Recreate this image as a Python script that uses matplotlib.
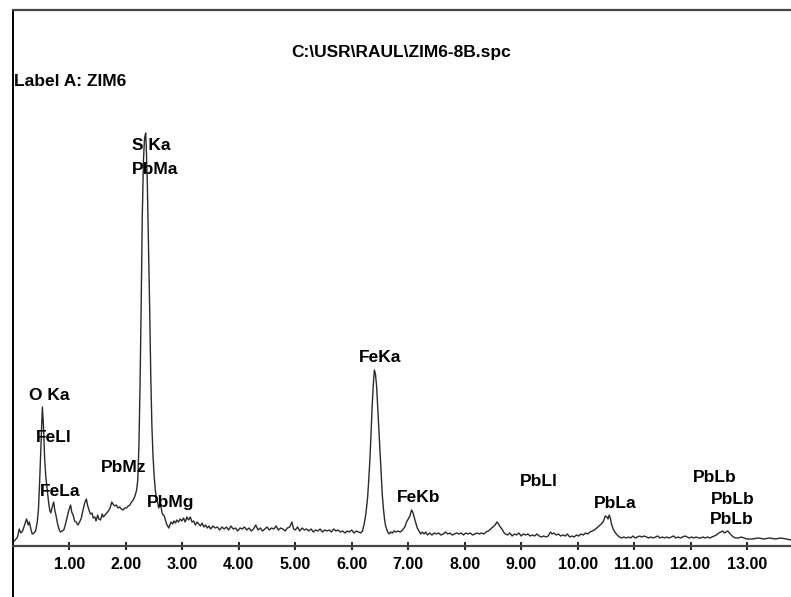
import matplotlib
matplotlib.use("Agg")
import matplotlib.pyplot as plt

plt.rcParams['font.family'] = ['Liberation Sans', 'DejaVu Sans']

# spectrum (energy in keV, counts in arbitrary units)
energy_kev = [
    0.00, 0.04, 0.08, 0.11, 0.14, 0.17, 0.21, 0.24, 0.27, 0.29,
    0.32, 0.34, 0.37, 0.40, 0.43, 0.45, 0.47, 0.49, 0.51, 0.52,
    0.53, 0.54, 0.56, 0.58, 0.61, 0.63, 0.65, 0.67, 0.69, 0.72,
    0.74, 0.76, 0.79, 0.82, 0.84, 0.87, 0.90, 0.93, 0.96, 0.99,
    1.02, 1.04, 1.07, 1.09, 1.12, 1.15, 1.18, 1.21, 1.24, 1.27,
    1.30, 1.32, 1.34, 1.37, 1.40, 1.42, 1.45, 1.47, 1.50, 1.52,
    1.55, 1.58, 1.60, 1.63, 1.66, 1.69, 1.72, 1.75, 1.77, 1.80,
    1.83, 1.86, 1.89, 1.92, 1.95, 1.98, 2.01, 2.04, 2.07, 2.10,
    2.13, 2.16, 2.19, 2.21, 2.23, 2.25, 2.27, 2.29, 2.31, 2.33,
    2.35, 2.36, 2.38, 2.40, 2.42, 2.44, 2.46, 2.48, 2.50, 2.52,
    2.54, 2.56, 2.58, 2.60, 2.62, 2.64, 2.66, 2.68, 2.70, 2.72,
    2.74, 2.76, 2.78, 2.80, 2.83, 2.85, 2.88, 2.90, 2.93, 2.96,
    2.99, 3.02, 3.05, 3.08, 3.11, 3.14, 3.17, 3.20, 3.23, 3.26,
    3.29, 3.32, 3.35, 3.38, 3.41, 3.44, 3.47, 3.50, 3.54, 3.58,
    3.62, 3.66, 3.70, 3.74, 3.78, 3.82, 3.86, 3.90, 3.94, 3.98,
    4.02, 4.06, 4.10, 4.14, 4.18, 4.22, 4.26, 4.30, 4.34, 4.38,
    4.42, 4.46, 4.50, 4.54, 4.58, 4.62, 4.66, 4.70, 4.74, 4.78,
    4.82, 4.86, 4.90, 4.94, 4.97, 5.00, 5.04, 5.08, 5.12, 5.16,
    5.20, 5.24, 5.28, 5.32, 5.36, 5.40, 5.44, 5.48, 5.52, 5.56,
    5.60, 5.64, 5.68, 5.72, 5.76, 5.80, 5.84, 5.88, 5.92, 5.96,
    6.00, 6.04, 6.08, 6.12, 6.16, 6.19, 6.22, 6.25, 6.28, 6.30,
    6.32, 6.34, 6.36, 6.38, 6.40, 6.42, 6.44, 6.46, 6.48, 6.50,
    6.52, 6.54, 6.56, 6.58, 6.60, 6.63, 6.66, 6.69, 6.72, 6.75,
    6.78, 6.82, 6.86, 6.90, 6.94, 6.97, 7.00, 7.03, 7.06, 7.08,
    7.10, 7.13, 7.16, 7.19, 7.22, 7.25, 7.28, 7.31, 7.34, 7.38,
    7.42, 7.46, 7.50, 7.54, 7.58, 7.62, 7.66, 7.70, 7.74, 7.78,
    7.82, 7.86, 7.90, 7.94, 7.98, 8.02, 8.06, 8.10, 8.14, 8.18,
    8.22, 8.26, 8.30, 8.34, 8.38, 8.42, 8.46, 8.50, 8.54, 8.57,
    8.60, 8.63, 8.66, 8.69, 8.72, 8.76, 8.80, 8.84, 8.88, 8.92,
    8.96, 9.00, 9.04, 9.08, 9.12, 9.16, 9.20, 9.24, 9.28, 9.32,
    9.36, 9.40, 9.44, 9.48, 9.52, 9.55, 9.58, 9.62, 9.66, 9.70,
    9.74, 9.78, 9.82, 9.86, 9.90, 9.94, 9.98, 10.02, 10.06, 10.10,
    10.14, 10.18, 10.22, 10.26, 10.30, 10.34, 10.38, 10.42, 10.46, 10.49,
    10.52, 10.54, 10.56, 10.58, 10.60, 10.63, 10.66, 10.70, 10.74, 10.78,
    10.82, 10.86, 10.90, 10.94, 10.98, 11.02, 11.06, 11.10, 11.14, 11.18,
    11.22, 11.26, 11.30, 11.34, 11.38, 11.42, 11.46, 11.50, 11.54, 11.58,
    11.62, 11.66, 11.70, 11.74, 11.78, 11.82, 11.86, 11.90, 11.94, 11.98,
    12.02, 12.06, 12.10, 12.14, 12.18, 12.22, 12.26, 12.30, 12.34, 12.38,
    12.42, 12.46, 12.50, 12.54, 12.57, 12.60, 12.63, 12.66, 12.69, 12.72,
    12.76, 12.80, 12.85, 12.90, 12.95, 13.00, 13.10, 13.20, 13.30, 13.40,
    13.50, 13.60, 13.70, 13.78,
]
counts = [
    4, 6, 9, 17, 13, 15, 22, 27, 21, 24,
    16, 12, 13, 15, 24, 36, 62, 92, 125, 139,
    130, 120, 88, 70, 54, 44, 36, 33, 38, 44,
    36, 31, 22, 16, 14, 15, 16, 22, 29, 36,
    41, 34, 30, 25, 24, 21, 24, 28, 36, 43,
    47, 41, 37, 32, 33, 28, 29, 25, 31, 27,
    26, 32, 29, 31, 33, 35, 38, 44, 42, 40,
    41, 38, 39, 37, 36, 38, 38, 40, 41, 44,
    46, 50, 56, 66, 100, 160, 240, 330, 385, 408,
    413, 400, 360, 300, 240, 170, 120, 90, 70, 56,
    48, 44, 38, 42, 40, 33, 31, 30, 26, 22,
    20, 18, 21, 24, 22, 25, 23, 26, 24, 27,
    25, 28, 24, 29, 26, 29, 24, 25, 21, 24,
    22, 20, 23, 19, 21, 18, 20, 17, 20, 18,
    19, 16, 19, 17, 19, 16, 20, 17, 18, 15,
    18, 17, 19, 16, 18, 15, 17, 21, 16, 18,
    15, 17, 19, 16, 18, 17, 20, 16, 18, 17,
    15, 18, 19, 24, 17, 16, 19, 15, 18, 16,
    17, 15, 17, 14, 16, 15, 17, 14, 16, 15,
    16, 14, 17, 15, 16, 14, 15, 13, 15, 14,
    16, 13, 15, 14, 13, 15, 22, 32, 48, 65,
    85, 110, 138, 160, 176, 172, 160, 138, 115, 95,
    72, 52, 38, 27, 20, 15, 12, 14, 13, 15,
    14, 15, 14, 16, 19, 24, 27, 30, 36, 34,
    30, 24, 18, 15, 12, 14, 12, 14, 11, 13,
    11, 13, 12, 13, 11, 12, 14, 12, 13, 11,
    12, 13, 12, 13, 11, 13, 12, 13, 11, 12,
    13, 12, 13, 12, 14, 15, 17, 19, 21, 24,
    22, 19, 17, 14, 12, 11, 13, 10, 12, 11,
    13, 10, 12, 11, 12, 10, 11, 10, 12, 10,
    9, 10, 9, 10, 14, 12, 13, 11, 12, 10,
    11, 10, 12, 9, 10, 9, 11, 10, 12, 11,
    13, 12, 14, 15, 16, 18, 20, 22, 25, 30,
    29, 27, 31, 28, 22, 17, 14, 11, 9, 8,
    9, 8, 9, 8, 10, 8, 9, 10, 9, 10,
    9, 8, 9, 8, 9, 10, 8, 9, 8, 9,
    8, 9, 10, 8, 9, 8, 9, 10, 9, 8,
    9, 8, 9, 8, 8, 9, 8, 9, 8, 9,
    10, 11, 13, 14, 15, 13, 14, 15, 13, 11,
    9, 8, 8, 9, 8, 7, 7, 8, 7, 8,
    7, 8, 7, 6,
]

# peak identification labels
peak_names = ["O Ka", "FeLl", "FeLa", "PbMz", "S Ka", "PbMa", "PbMg",
              "FeKa", "FeKb", "PbLl", "PbLa", "PbLb", "PbLb", "PbLb"]
peak_x = [0.29, 0.40, 0.47, 1.55, 2.10, 2.10, 2.38,
          6.12, 6.80, 8.98, 10.29, 12.05, 12.36, 12.35]
peak_y = [151, 108, 54, 78, 400, 377, 43,
          189, 49, 64, 43, 69, 47, 26]

tick_pos = [1, 2, 3, 4, 5, 6, 7, 8, 9, 10, 11, 12, 13]
tick_labels = ["%.2f" % t for t in tick_pos]

fig = plt.figure(figsize=(7.91, 5.97), dpi=100)
ax = fig.add_axes([13 / 791, 0, 1 - 13 / 791, 587 / 597])

ax.plot(energy_kev, counts, color='#2a2a2a', lw=1.0)

ax.set_xlim(0, 13.78)
ax.set_ylim(-51, 536)

ax.spines['right'].set_visible(False)
ax.spines['top'].set_linewidth(1.6)
ax.spines['top'].set_color('#444444')
ax.spines['left'].set_linewidth(1.4)
ax.spines['bottom'].set_position(('data', 0))
ax.spines['bottom'].set_linewidth(1.6)
ax.spines['bottom'].set_color('#444444')

ax.set_yticks([])
ax.set_xticks(tick_pos)
ax.set_xticklabels(tick_labels, fontsize=11.5, fontweight='bold')
ax.tick_params(axis='x', direction='inout', length=6, width=1.2, pad=5)

for name, px, py in zip(peak_names, peak_x, peak_y):
    ax.text(px, py, name, ha='left', va='center', fontsize=12.5, fontweight='bold')

fig.text(401 / 791, 1 - 52 / 597, "C:\\USR\\RAUL\\ZIM6-8B.spc", ha='center', va='center',
         fontsize=12.5, fontweight='bold')
fig.text(14 / 791, 1 - 82 / 597, "Label A: ZIM6", ha='left', va='center',
         fontsize=12.5, fontweight='bold')

fig.savefig("out.png", dpi=100)
